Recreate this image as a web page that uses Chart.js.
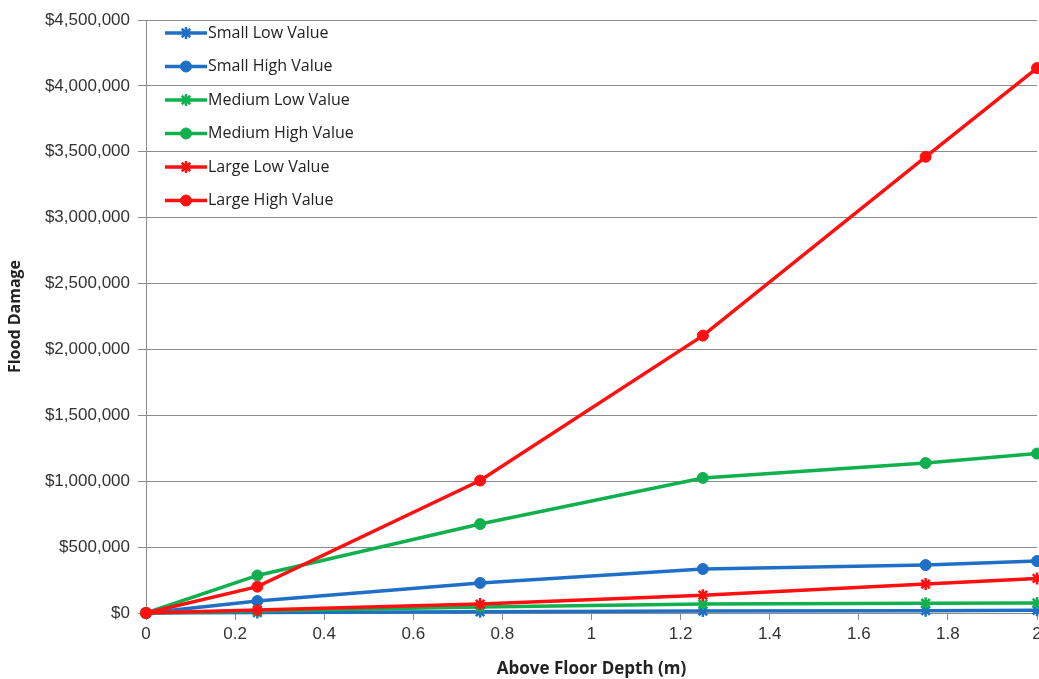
<!DOCTYPE html>
<html>
<head>
<meta charset="utf-8">
<script src="https://cdn.jsdelivr.net/npm/chart.js@4/dist/chart.umd.min.js"></script>
<style>
  html, body { margin: 0; padding: 0; background: #fff; }
  #wrap { width: 1039px; height: 679px; position: relative; }
</style>
</head>
<body>
<div id="wrap"><canvas id="chart"></canvas></div>
<script>
const depths = [0, 0.25, 0.75, 1.25, 1.75, 2];
const seriesNames = ["Small Low Value", "Small High Value", "Medium Low Value", "Medium High Value", "Large Low Value", "Large High Value"];
const smallLow = [0, 3000, 9000, 15000, 18000, 20000];
const smallHigh = [0, 91000, 228000, 334000, 364000, 394000];
const mediumLow = [0, 15000, 45000, 68000, 74000, 76000];
const mediumHigh = [0, 285000, 675000, 1025000, 1138000, 1210000];
const largeLow = [0, 22000, 68000, 135000, 220000, 262000];
const largeHigh = [0, 200000, 1005000, 2105000, 3462000, 4135000];

const BLUE = "#1f6fc6", GREEN = "#10b04e", RED = "#ff1010";
const FONT = "'Open Sans', 'DejaVu Sans', sans-serif";
const TICK_FONT = "'Liberation Sans', Arial, sans-serif";

const values = [smallLow, smallHigh, mediumLow, mediumHigh, largeLow, largeHigh];
const colors = [BLUE, BLUE, GREEN, GREEN, RED, RED];
const styles = ["star", "circle", "star", "circle", "star", "circle"];

const datasets = values.map((vals, i) => ({
  label: seriesNames[i],
  data: vals.map((v, j) => ({ x: depths[j], y: v })),
  borderColor: colors[i],
  backgroundColor: colors[i],
  borderWidth: 3.5,
  pointStyle: styles[i],
  pointRadius: styles[i] === "star" ? 6 : 5.5,
  pointBorderWidth: styles[i] === "star" ? 2.5 : 1,
  pointBackgroundColor: colors[i],
  pointBorderColor: colors[i],
  tension: 0,
  clip: false,
  order: 5 - i
}));

// legend drawn inside the plot, top left
const insideLegend = {
  id: "insideLegend",
  afterDatasetsDraw(chart) {
    const ctx = chart.ctx;
    const x0 = chart.chartArea.left + 19;
    chart.data.datasets.forEach((ds, i) => {
      const y = chart.chartArea.top + 13 + i * 33.5;
      ctx.save();
      ctx.strokeStyle = ds.borderColor;
      ctx.fillStyle = ds.borderColor;
      ctx.lineWidth = 3.5;
      ctx.beginPath();
      ctx.moveTo(x0, y);
      ctx.lineTo(x0 + 42, y);
      ctx.stroke();
      ctx.lineWidth = ds.pointBorderWidth;
      if (Chart.helpers && Chart.helpers.drawPoint) {
        Chart.helpers.drawPoint(ctx, { pointStyle: ds.pointStyle, radius: ds.pointRadius, borderWidth: ds.pointBorderWidth, rotation: 0 }, x0 + 21, y);
      }
      ctx.fillStyle = "#222";
      ctx.font = "16px " + FONT;
      ctx.textBaseline = "middle";
      ctx.textAlign = "left";
      ctx.fillText(ds.label, x0 + 43, y);
      ctx.restore();
    });
  }
};

new Chart(document.getElementById("chart"), {
  type: "line",
  data: { datasets },
  plugins: [insideLegend],
  options: {
    responsive: true,
    maintainAspectRatio: false,
    animation: false,
    layout: { autoPadding: false, padding: { top: 20, right: 2, left: 0, bottom: 0 } },
    plugins: {
      legend: { display: false },
      tooltip: { enabled: false }
    },
    scales: {
      x: {
        type: "linear",
        min: 0,
        max: 2,
        afterFit: s => { s.height = 66; s.paddingRight = 0; },
        grid: { drawOnChartArea: false, drawTicks: true, tickLength: 7, color: "#8c8c8c" },
        border: { color: "#8c8c8c" },
        ticks: {
          stepSize: 0.2,
          padding: 4,
          color: "#333",
          font: { family: TICK_FONT, size: 17 },
          callback: v => String(Math.round(v * 10) / 10)
        },
        title: {
          display: true,
          text: "Above Floor Depth (m)",
          color: "#222",
          font: { family: FONT, size: 17, weight: "bold" },
          padding: { top: 0, bottom: 0 }
        }
      },
      y: {
        min: 0,
        max: 4500000,
        afterFit: s => { s.width = 146; },
        grid: { color: "#8c8c8c", tickLength: 8 },
        border: { color: "#8c8c8c" },
        ticks: {
          stepSize: 500000,
          padding: 8,
          color: "#333",
          font: { family: TICK_FONT, size: 17 },
          callback: v => "$" + v.toLocaleString("en-US")
        },
        title: {
          display: true,
          text: "Flood Damage",
          color: "#222",
          font: { family: FONT, size: 16, weight: "bold" },
          padding: { top: 6, bottom: 6 }
        }
      }
    }
  }
});
</script>
</body>
</html>
